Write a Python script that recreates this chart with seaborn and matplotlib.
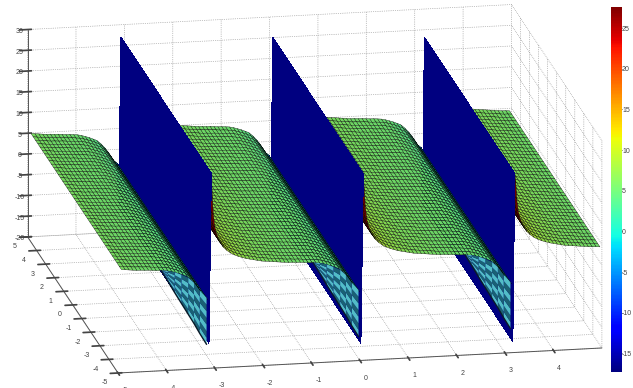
import numpy as np
import matplotlib
matplotlib.use("Agg")
import matplotlib.pyplot as plt
import seaborn as sns

# positions of the jumps along x
poles = [-6.21, -3.07, 0.07, 3.20]

# height reached at the top and at the foot of each jump
wall_top = [27.0, 27.0, 25.0, 23.2]
wall_foot = [-14.0, -15.8, -17.3, -17.3]

# one period of the surface: distance from the jump, height
period_x = [0.00, 0.02, 0.04, 0.07, 0.10, 0.14, 0.19, 0.25, 0.32, 0.40, 0.48, 0.56, 0.64, 0.72, 0.80,
            0.88, 0.96, 1.04, 1.12, 1.20, 1.28, 1.36, 1.44, 1.52, 1.60, 1.68, 1.76, 1.84, 1.92, 2.00,
            2.08, 2.16, 2.24, 2.32, 2.40, 2.48, 2.56, 2.64, 2.72, 2.80, 2.87, 2.93, 2.98, 3.03, 3.06, 3.09]
period_z = [27.0, 21.0, 17.0, 14.0, 12.5, 11.0, 10.0, 9.0, 8.2, 7.5, 7.0, 6.6, 6.3, 6.0, 5.8,
            5.6, 5.4, 5.2, 5.1, 5.0, 4.9, 4.8, 4.7, 4.6, 4.5, 4.5, 4.4, 4.4, 4.3, 4.2,
            4.2, 4.1, 4.0, 3.8, 3.5, 3.2, 2.8, 2.4, 1.6, 0.6, -0.5, -1.6, -2.6, -3.0, -3.4, -14.5]

# front flap under each drop
flap_x = [2.10, 2.24, 2.38, 2.52, 2.66, 2.78, 2.90, 3.04]
flap_top = [4.2, 4.0, 3.6, 2.9, 2.1, 0.8, -1.1, -3.0]
flap_bottom = [4.2, 1.5, -1.3, -4.0, -6.7, -9.0, -11.5, -14.2]

z_min, z_max = -17.3, 27.6
bar_ticks = [25, 20, 15, 10, 5, 0, -5, -10, -15]
x_ticks = [-5, -4, -3, -2, -1, 0, 1, 2, 3, 4]
y_ticks = [-5, -4, -3, -2, -1, 0, 1, 2, 3, 4, 5]
z_ticks = [-20, -15, -10, -5, 0, 5, 10, 15, 20, 25, 30]

sns.set_theme(style="whitegrid", rc={
    "grid.linestyle": ":", "grid.color": "#8c8c8c", "grid.linewidth": 0.5,
    "axes.unicode_minus": False, "axes.edgecolor": "#555555",
    "xtick.color": "#444444", "ytick.color": "#444444",
})
plt.rcParams["font.family"] = ["Liberation Sans", "DejaVu Sans"]
jet = matplotlib.colormaps["jet"]
norm = plt.Normalize(z_min, z_max)

# build the sheet
px = np.array(period_x)
pz = np.array(period_z)
parts = []
for k in range(len(poles)):
    part = pz.copy()
    part[0] = wall_top[k]
    part[-1] = wall_foot[k]
    parts.append(part)
x = np.concatenate([p + px for p in poles])
z = np.concatenate(parts)
off = np.concatenate([px for p in poles])
keep = (x >= -5) & (x <= 5)
x, z, off = x[keep], z[keep], off[keep]
y = np.linspace(-5, 5, 41)
X, Y = np.meshgrid(x, y)
Z = np.tile(z, (len(y), 1))

# colour of each column, flat from its first vertex
col_z = z + 1.0
col_z[off < 0.12] = z_max

fig = plt.figure(figsize=(6.33, 3.88), dpi=100)
ax = fig.add_axes([-7 / 633, 0, 1, 1], projection="3d", computed_zorder=False)
ax.set_proj_type("ortho")
ax.view_init(elev=16.2, azim=-100.5)
ax.set_box_aspect((490, 494, 215), zoom=1.83)

n = len(x)
for i in range(n - 1):
    wall = z[i] < -10 or z[i + 1] < -10
    if wall:
        rgba = np.array(jet(0.0))
        edge = "none"
    else:
        rgba = np.array(jet(norm(col_z[i])))
        rgba[:3] *= 0.84
        edge = "black"
    colors = np.tile(rgba, (len(y) - 1, 1, 1))
    # antialiased off on the walls, otherwise the seams between faces show up
    ax.plot_surface(X[:, i:i + 2], Y[:, i:i + 2], Z[:, i:i + 2], rstride=1, cstride=1,
                    facecolors=colors, edgecolor=edge, linewidth=0.25, shade=False,
                    antialiased=not wall, zorder=n - i, clip_on=False)

# teal checkered flaps
fx = np.array(flap_x)
ft = np.array(flap_top)
fb = np.array(flap_bottom)
rows = np.linspace(0, 1, 8)
teal = (0.32, 0.74, 0.78, 1)
dark = (0.10, 0.38, 0.45, 1)
for p in poles[:3]:
    FX = np.tile(p + fx, (len(rows), 1))
    FZ = np.outer(rows, ft) + np.outer(1 - rows, fb)
    FY = np.full(FX.shape, -5.0)
    colors = np.empty((len(rows) - 1, len(fx) - 1, 4))
    for r in range(len(rows) - 1):
        for c in range(len(fx) - 1):
            colors[r, c] = teal if (r + c) % 2 == 0 else dark
    ax.plot_surface(FX, FY, FZ, rstride=1, cstride=1, facecolors=colors, edgecolor="none",
                    linewidth=0, shade=False, zorder=n + 5, clip_on=False)
    ax.plot(p + fx, [-5] * len(fx), fb, color="#0a1a2a", lw=1.0, zorder=n + 6, clip_on=False)

ax.set_xlim(-5, 5, view_margin=0)
ax.set_ylim(-5, 5, view_margin=0)
ax.set_zlim(-20, 30, view_margin=0)
ax.set_xticks(x_ticks)
ax.set_yticks(y_ticks)
ax.set_zticks(z_ticks)
ax.tick_params(labelsize=5, colors="#444444")
ax.tick_params(axis="z", pad=-6)
ax.tick_params(axis="x", pad=-2)
ax.tick_params(axis="y", pad=-4)
for axis in (ax.xaxis, ax.yaxis, ax.zaxis):
    axis.set_pane_color((1, 1, 1, 0))
    axis.pane.set_edgecolor((1, 1, 1, 0))
    axis.line.set_color("#555555")
    axis.line.set_linewidth(0.7)
    axis.line.set_clip_on(False)
    for t in axis.get_major_ticks():
        t.tick1line.set_clip_on(False)
        t.label1.set_clip_on(False)
        t.gridline.set_clip_on(False)
plt.setp(ax.get_xticklabels(), ha="left")

# colour bar, drawn as a heatmap
cax = fig.add_axes([611 / 633, 1 - 372 / 388, 11 / 633, 365 / 388])
levels = np.linspace(z_max, z_min, 256)
sns.heatmap(levels[:, None], cmap=jet, vmin=z_min, vmax=z_max, cbar=False, ax=cax,
            xticklabels=False, yticklabels=False)
cax.set_yticks([(z_max - t) / (z_max - z_min) * 256 for t in bar_ticks])
cax.set_yticklabels(bar_ticks, rotation=0, fontsize=5, color="#444444")
cax.yaxis.tick_right()
cax.tick_params(axis="y", direction="in", length=2, width=0.5, color="black", pad=0, right=True)

fig.savefig("out.png", dpi=100)
